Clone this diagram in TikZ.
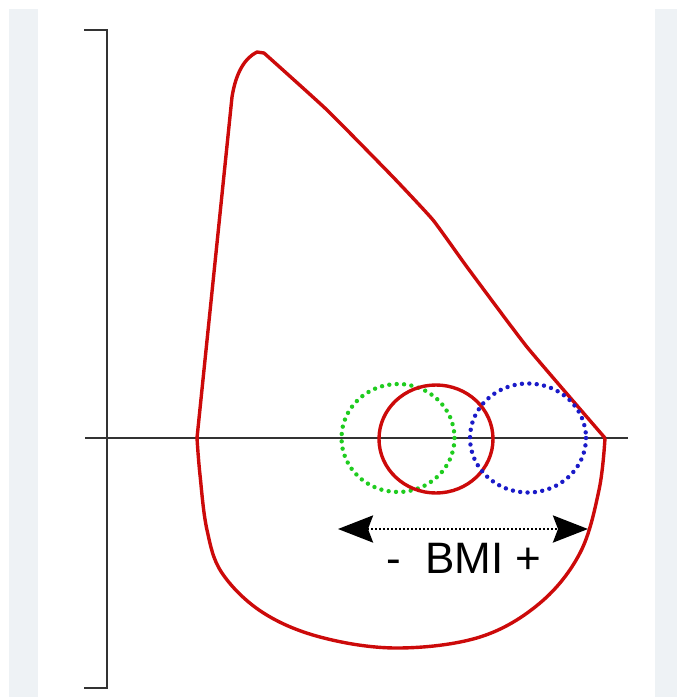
\documentclass[tikz,border=0pt]{standalone}
\usepackage{fontspec}
\setmainfont{Liberation Sans}
\usetikzlibrary{arrows.meta}
\definecolor{stripgray}{HTML}{EEF2F5}
\definecolor{shapered}{HTML}{CC0A0A}
\definecolor{dotgreen}{HTML}{1FCC1F}
\definecolor{dotblue}{HTML}{1A1AC8}

\begin{document}
\begin{tikzpicture}[x=1pt, y=-1pt,
  outline/.style={shapered, line width=3.4pt, line join=round},
  dotring/.style={line width=4.4pt, line cap=round, dash pattern=on 0pt off 7.4pt},
  axisline/.style={black!80, line width=2.6pt},
  bmiarrow/.style={line width=2.8pt, dash pattern=on 2pt off 2pt,
    >={Stealth[length=35pt, width=27pt, inset=5pt]}, <->}]
  \useasboundingbox (0,0) rectangle (677,697);
  \fill[stripgray] (9,9) rectangle (38,697);
  \fill[stripgray] (655,9) rectangle (677,697);
  \def\ya{438}
  % bracket and axis
  \draw[axisline] (84,30) -- (107,30) -- (107,688) -- (84,688);
  \coordinate (axL) at (85,\ya);
  \coordinate (axR) at (628,\ya);
  \draw[axisline] (axL) -- (axR);
  % breast outline
  \draw[outline] plot[smooth, tension=0.25] coordinates {(605,\ya) (527,347) (467,267)
      (433,220) (393,177) (327,110) (264,53)}
    -- (257,52) .. controls (245,58) and (236,72) .. (232,97) -- (197,\ya)
    plot[smooth, tension=0.6] coordinates {(197,\ya) (200,475) (207,530) (222,573)
      (262,612) (320,637) (397,648) (480,637) (540,603) (580,553) (599,490) (605,\ya)};
  % rings
  \coordinate (cLow) at (398,438);
  \coordinate (cMid) at (436,439);
  \coordinate (cHigh) at (528,438);
  \draw[dotring, dotgreen] (cLow) ellipse [x radius=56.5, y radius=54];
  \draw[outline] (cMid) ellipse [x radius=57, y radius=54];
  \draw[dotring, dotblue] (cHigh) ellipse [x radius=58, y radius=54.5];
  % bmi arrow
  \coordinate (bmiL) at (338,529);
  \coordinate (bmiR) at (588,529);
  \draw[bmiarrow] (bmiL) -- (bmiR);
  \node[font=\fontsize{44}{44}\selectfont, inner sep=0pt] (bmi) at (464,558) {-\ \ BMI +};
\end{tikzpicture}
\end{document}
